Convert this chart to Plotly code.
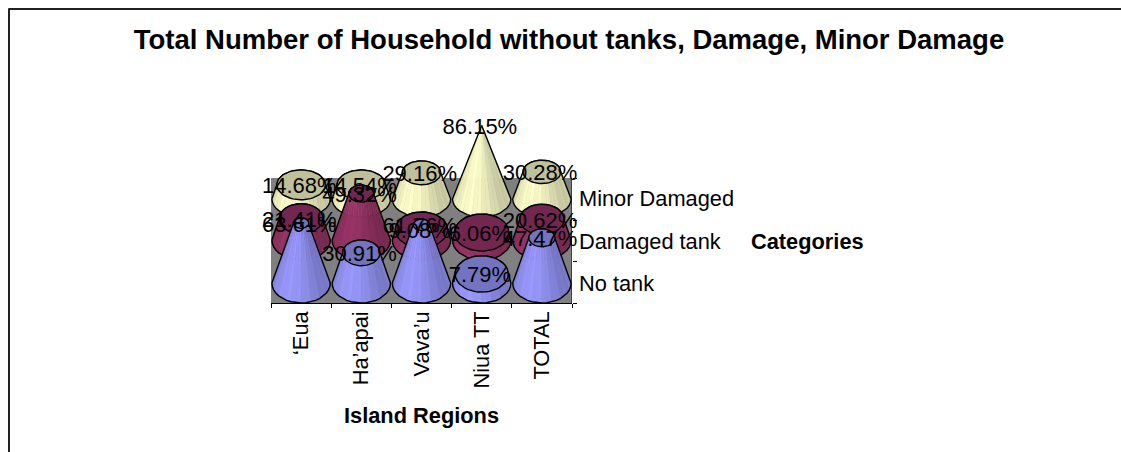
import numpy as np
import plotly.graph_objects as go

regions = ["\u2018Eua", "Ha\u2019apai", "Vava\u2019u", "Niua TT", "TOTAL"]
series_names = ["No tank", "Damaged tank", "Minor Damaged"]
no_tank = [63.61, 30.91, 61.76, 7.79, 47.47]
damaged_tank = [21.41, 49.32, 9.08, 6.06, 20.62]
minor_damaged = [14.68, 14.54, 29.16, 86.15, 30.28]

FONT = "Liberation Sans, Arial, sans-serif"
PLOT_L, PLOT_R, PLOT_T, PLOT_B = 271, 572, 178, 303
AXIS_TOP = 60         # the y axis runs well above the wall so tall cones stay inside it
W, H = 1121, 452
WALL = PLOT_B - PLOT_T

# Cone axis maximum: a cone reaching it closes to a point.
V_MAX = max(max(no_tank), max(damaged_tank), max(minor_damaged))
R_X = 0.485           # base half width, in category units

# Per-row geometry on the depth axis (y units are pixels above the floor).
rows = [
    dict(vals=minor_damaged, base=104, scale=0.83, ry=18, face="#FFFFCC", top="#BFBF99"),
    dict(vals=damaged_tank, base=63, scale=0.90, ry=20, face="#993366", top="#732650"),
    dict(vals=no_tank, base=20, scale=0.91, ry=20, face="#9999FF", top="#7373BF"),
]


def shade(hex_col, k):
    r, g, b = (int(hex_col[i:i + 2], 16) for i in (1, 3, 5))
    return f"rgb({r * k:.0f},{g * k:.0f},{b * k:.0f})"


fig = go.Figure()
N_FACETS = 18
for row in rows:
    for i, v in enumerate(row["vals"]):
        cx = i + 0.5
        t = 1 - v / V_MAX
        y0 = row["base"]
        y1 = y0 + v * row["scale"] + 2
        rx1, ry1 = R_X * t, row["ry"] * t
        angles = np.linspace(np.pi, 2 * np.pi, N_FACETS + 1)
        # Side wall as vertical facets round the front of the cone, with faint banding
        for j, (a, b) in enumerate(zip(angles[:-1], angles[1:])):
            m = (a + b) / 2
            k = 0.80 + 0.20 * np.cos(m - 1.35 * np.pi) ** 2 - (0.025 if j % 2 else 0.0)
            xs = [cx + R_X * np.cos(a), cx + R_X * np.cos(b), cx + rx1 * np.cos(b), cx + rx1 * np.cos(a)]
            ys = [y0 + row["ry"] * np.sin(a), y0 + row["ry"] * np.sin(b),
                  y1 + ry1 * np.sin(b), y1 + ry1 * np.sin(a)]
            fig.add_trace(go.Scatter(x=xs + xs[:1], y=ys + ys[:1], mode="lines", fill="toself",
                                     fillcolor=shade(row["face"], k), line=dict(width=0.5, color=shade(row["face"], k)),
                                     hoverinfo="skip", showlegend=False, cliponaxis=False))
        # Outline: front of the base, then the far side of the top rim
        back = np.linspace(0, np.pi, 40)
        ox = np.r_[cx + R_X * np.cos(angles), cx + rx1 * np.cos(back)]
        oy = np.r_[y0 + row["ry"] * np.sin(angles), y1 + ry1 * np.sin(back)]
        fig.add_trace(go.Scatter(x=np.r_[ox, ox[0]], y=np.r_[oy, oy[0]], mode="lines",
                                 line=dict(color="black", width=1.4), hoverinfo="skip",
                                 showlegend=False, cliponaxis=False))
        # Top rim cap
        if t > 0.001:
            full = np.linspace(0, 2 * np.pi, 60)
            fig.add_trace(go.Scatter(x=cx + rx1 * np.cos(full), y=y1 + ry1 * np.sin(full), mode="lines",
                                     fill="toself", fillcolor=row["top"], line=dict(color="black", width=1.4),
                                     hoverinfo="skip", showlegend=False, cliponaxis=False))

# Percentage labels sit on top of every cone
for row in rows:
    for i, v in enumerate(row["vals"]):
        fig.add_trace(go.Scatter(x=[i + 0.47], y=[row["base"] + v * row["scale"] - 1], mode="text",
                                 text=[f"{v:.2f}%"], textposition="middle center",
                                 textfont=dict(family=FONT, size=22, color="black"),
                                 hoverinfo="skip", showlegend=False, cliponaxis=False))

dom_x = [PLOT_L / W, PLOT_R / W]
dom_y = [1 - PLOT_B / H, 1 - AXIS_TOP / H]
y_range = [0, PLOT_B - AXIS_TOP]
fig.update_layout(
    width=W, height=H, autosize=False, margin=dict(l=0, r=0, t=0, b=0),
    paper_bgcolor="white", plot_bgcolor="rgba(0,0,0,0)",
    title=dict(text="<b>Total Number of Household without tanks, Damage, Minor Damage</b>",
               x=569 / W, xanchor="center", y=1 - 39 / H, yanchor="middle",
               font=dict(family=FONT, size=27.5, color="black")),
    xaxis=dict(domain=dom_x, range=[0, 5], tickmode="array", tickvals=[0.5, 1.5, 2.5, 3.5, 4.5],
               ticktext=regions, tickangle=-90, ticks="", showgrid=False, zeroline=False,
               tickfont=dict(family=FONT, size=21.8, color="black"), ticklabelstandoff=3,
               title=dict(text="<b>Island Regions</b>", standoff=20,
                          font=dict(family=FONT, size=21.8, color="black"))),
    xaxis2=dict(domain=dom_x, range=[0, 5], overlaying="x", side="bottom", anchor="y",
                tickvals=[0, 1, 2, 3, 4, 5], ticktext=[""] * 6, ticks="outside", ticklen=4,
                tickcolor="black", showline=True, linecolor="black", showgrid=False, zeroline=False),
    yaxis=dict(domain=dom_y, range=y_range, side="right", anchor="x", tickmode="array",
               tickvals=[20, 62, 105], ticktext=series_names, ticks="", showgrid=False, zeroline=False,
               tickfont=dict(family=FONT, size=21.8, color="black"), ticklabelstandoff=6),
    yaxis2=dict(domain=dom_y, range=y_range, overlaying="y", side="right", anchor="x",
                tickvals=[0, 42, 83, 125], ticktext=[""] * 4, ticks="outside", ticklen=4,
                tickcolor="black", showline=False, showgrid=False, zeroline=False),
    shapes=[
        dict(type="rect", xref="x", yref="y", x0=0, x1=5, y0=0, y1=WALL, layer="below",
             fillcolor="#808080", line=dict(width=0)),
        dict(type="line", xref="x", yref="y", x0=5, x1=5, y0=0, y1=WALL, layer="below",
             line=dict(color="black", width=1)),
        # Chart frame: only the top and left edges fall inside the page
        dict(type="line", xref="paper", yref="paper", x0=8.5 / W, x1=1, y0=1 - 9 / H, y1=1 - 9 / H,
             line=dict(color="#222222", width=2)),
        dict(type="line", xref="paper", yref="paper", x0=9 / W, x1=9 / W, y0=0, y1=1 - 8.5 / H,
             line=dict(color="#222222", width=2)),
    ],
    annotations=[dict(text="<b>Categories</b>", xref="paper", yref="paper", x=807 / W, y=1 - 241 / H,
                      showarrow=False, xanchor="center", yanchor="middle",
                      font=dict(family=FONT, size=21.8, color="black"))],
)
# Empty trace that brings the tick-only axes into the figure
fig.add_trace(go.Scatter(x=[None], y=[None], xaxis="x2", yaxis="y2", showlegend=False, hoverinfo="skip"))
fig.write_html("out.html")
